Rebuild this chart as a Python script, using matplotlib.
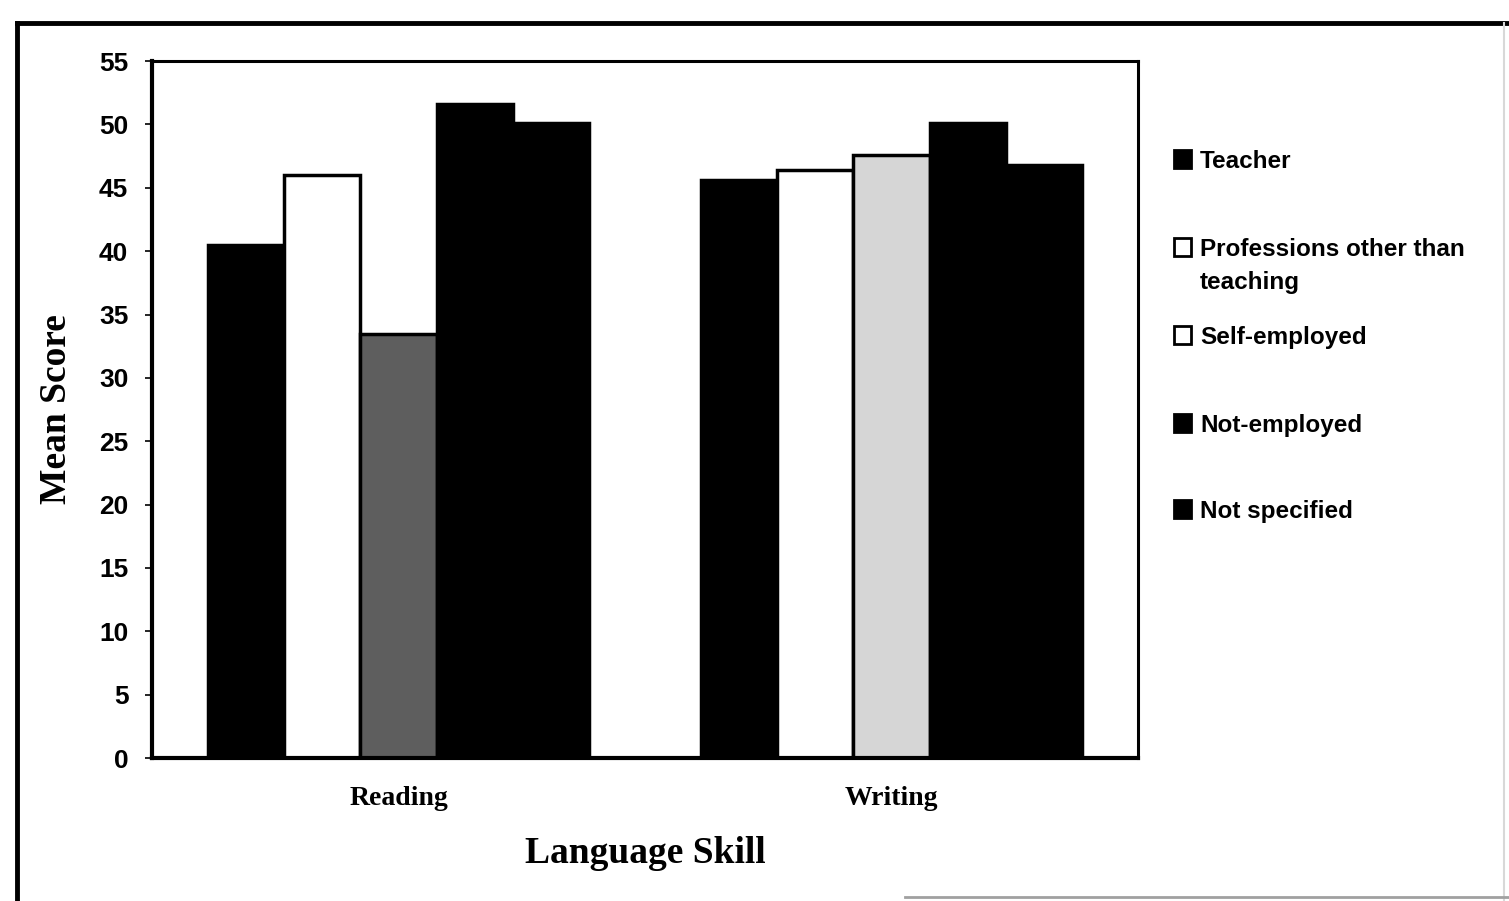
import matplotlib.pyplot as plt
from matplotlib.patches import Rectangle
from matplotlib.lines import Line2D
import numpy as np

# data
skills = ['Reading', 'Writing']
groups = ['Teacher', 'Professions other than\nteaching', 'Self-employed',
          'Not-employed', 'Not specified']
teacher = [40.5, 45.6]
professions = [46.0, 46.4]
self_employed = [33.5, 47.6]
not_employed = [51.6, 50.1]
not_specified = [50.1, 46.8]
series = [teacher, professions, self_employed, not_employed, not_specified]

# fill per bar (scan makes the self-employed bars look different per group)
fills = [['black', 'black'], ['white', 'white'], ['#5e5e5e', '#d6d6d6'],
         ['black', 'black'], ['black', 'black']]
legend_fills = ['black', 'white', 'white', 'black', 'black']

serif = 'Liberation Serif'
sans = 'Liberation Sans'

W, H = 1509, 901
fig = plt.figure(figsize=(W / 100, H / 100), dpi=100)
ax = fig.add_axes([0.1007, 0.1587, 0.6534, 0.7735])

x = np.arange(len(skills))
width = 0.1546
for i, vals in enumerate(series):
    offs = (i - 2) * width
    ax.bar(x + offs, vals, width, color=fills[i], edgecolor='black', linewidth=2.5)

ax.set_xlim(-0.5, 1.5)
ax.set_ylim(0, 55)
ax.set_yticks(range(0, 56, 5))
ax.set_xticks(x)
ax.set_xticklabels(skills, fontfamily=serif, fontweight='bold', fontsize=20)
for lab in ax.get_yticklabels():
    lab.set_fontfamily(sans)
    lab.set_fontweight('bold')
    lab.set_fontsize(19)
ax.tick_params(axis='y', length=5, width=1.2, pad=12)
ax.tick_params(axis='x', length=0, pad=20)

for s in ['left', 'bottom']:
    ax.spines[s].set_linewidth(3)
for s in ['top', 'right']:
    ax.spines[s].set_linewidth(2.2)

ax.set_ylabel('Mean Score', fontfamily=serif, fontweight='bold', fontsize=27, labelpad=18)
ax.set_xlabel('Language Skill', fontfamily=serif, fontweight='bold', fontsize=27, labelpad=18)

# legend, drawn by hand so the two-line entry lines up like the original
legend_y = [168, 256, 344, 432, 518]   # baseline of first line, px from top
for lbl, fc, yb in zip(groups, legend_fills, legend_y):
    fig.add_artist(Rectangle((1174 / W, 1 - yb / H), 17 / W, 18 / H,
                             transform=fig.transFigure, facecolor=fc,
                             edgecolor='black', linewidth=2))
    for k, line in enumerate(lbl.split('\n')):
        fig.text(1200 / W, 1 - (yb + 33 * k) / H, line, ha='left', va='baseline',
                 fontfamily=sans, fontweight='bold', fontsize=17.5)

# outer frame of the scanned figure
fig.add_artist(Line2D([0.0115, 0.0115], [0.0, 0.974], transform=fig.transFigure,
                      color='black', linewidth=3.5))
fig.add_artist(Line2D([0.0115, 1.0], [0.974, 0.974], transform=fig.transFigure,
                      color='black', linewidth=3.5))
fig.add_artist(Line2D([0.997, 0.997], [0.0, 0.974], transform=fig.transFigure,
                      color='#d8d8d8', linewidth=1.5))
fig.add_artist(Line2D([0.6, 1.0], [0.004, 0.004], transform=fig.transFigure,
                      color='#a0a0a0', linewidth=2))

fig.savefig('out.png', dpi=100)
